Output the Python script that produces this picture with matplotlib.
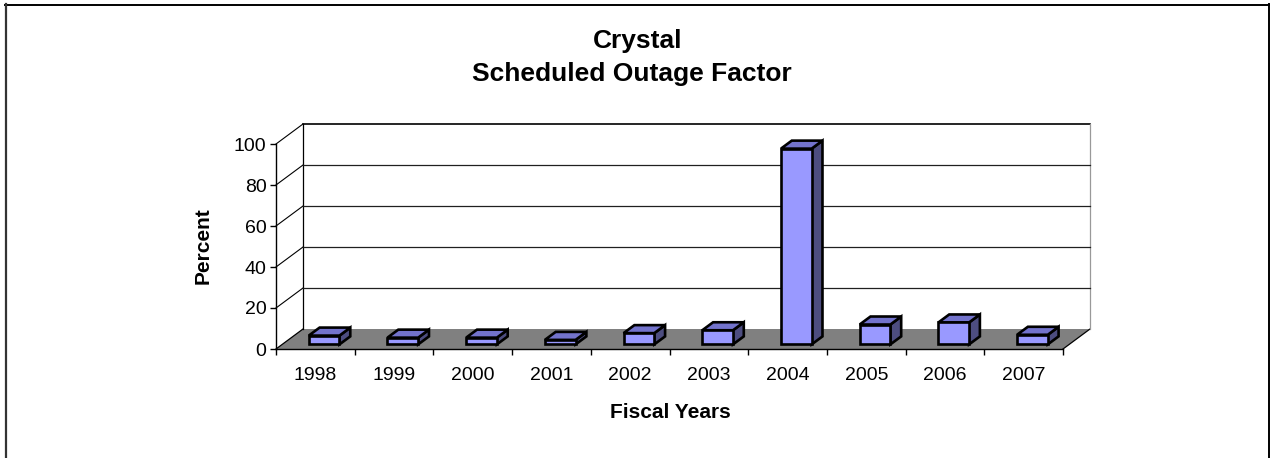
import matplotlib
matplotlib.use("Agg")
import matplotlib.pyplot as plt
from matplotlib.patches import Polygon
from matplotlib.lines import Line2D

plt.rcParams['font.family'] = ['Liberation Sans', 'DejaVu Sans']

# ---------------- data ----------------
years = ['1998', '1999', '2000', '2001', '2002', '2003', '2004', '2005', '2006', '2007']
values = [4.3, 3.3, 3.3, 2.2, 5.5, 6.9, 95.5, 9.7, 10.7, 4.7]
yticks = [0, 20, 40, 60, 80, 100]
title_lines = ['Crystal', 'Scheduled Outage Factor']
xlabel = 'Fiscal Years'
ylabel = 'Percent'

# ---------------- style / geometry ----------------
W, H = 1271, 458
fig = plt.figure(figsize=(W / 100, H / 100), dpi=100)
fig.patch.set_facecolor('white')

ax_left, ax_right, ax_top, ax_bot = 276, 1063, 144, 349
ax = fig.add_axes([ax_left / W, (H - ax_bot) / H, (ax_right - ax_left) / W, (ax_bot - ax_top) / H])
n = len(years)
ax.set_xlim(0, n)
ax.set_ylim(0, 100)
ax.set_facecolor('none')

px_per_cat = (ax_right - ax_left) / n
px_per_unit = (ax_bot - ax_top) / 100.0
DX = 27 / px_per_cat        # depth offset in category units
DY = 20 / px_per_unit       # depth offset in value units

FLOOR = '#808080'
FRONT = '#9999FF'
TOP = '#7373CC'
SIDE = '#4D4D80'
GRID = '#202020'

# floor
ax.add_patch(Polygon([(0, 0), (n, 0), (n + DX, DY), (DX, DY)], closed=True,
                     facecolor=FLOOR, edgecolor='none', clip_on=False, zorder=1))
ax.add_line(Line2D([0, DX], [0, DY], color='black', lw=0.9, clip_on=False, zorder=2))
ax.add_line(Line2D([n, n + DX], [0, DY], color='black', lw=0.9, clip_on=False, zorder=2))

# back wall
ax.add_line(Line2D([DX, n + DX], [100 + DY, 100 + DY], color='black', lw=1.2, clip_on=False, zorder=2))
ax.add_line(Line2D([DX, DX], [DY, 100 + DY], color='black', lw=0.9, clip_on=False, zorder=2))
ax.add_line(Line2D([n + DX, n + DX], [DY, 100 + DY], color='#999999', lw=0.9, clip_on=False, zorder=2))

# gridlines (back wall + side wall)
for v in yticks[1:]:
    if v < 100:
        ax.add_line(Line2D([DX, n + DX], [v + DY, v + DY], color=GRID, lw=0.9, clip_on=False, zorder=2))
    ax.add_line(Line2D([0, DX], [v, v + DY], color='black', lw=0.8, clip_on=False, zorder=2))

# bars
bw = 0.39
gap = (1 - 0.40) / 2
fx0, fy0, bd = 0.34, 0.23, 0.40
for i, v in enumerate(values):
    x0 = i + gap + fx0 * DX
    y0 = fy0 * DY
    bdx, bdy = bd * DX, bd * DY
    front = [(x0, y0), (x0 + bw, y0), (x0 + bw, y0 + v), (x0, y0 + v)]
    top = [(x0, y0 + v), (x0 + bw, y0 + v), (x0 + bw + bdx, y0 + v + bdy), (x0 + bdx, y0 + v + bdy)]
    side = [(x0 + bw, y0), (x0 + bw + bdx, y0 + bdy), (x0 + bw + bdx, y0 + v + bdy), (x0 + bw, y0 + v)]
    for poly, col in ((side, SIDE), (top, TOP), (front, FRONT)):
        ax.add_patch(Polygon(poly, closed=True, facecolor=col, edgecolor='black',
                             lw=1.9, joinstyle='miter', clip_on=False, zorder=3))

# axes / ticks
for s in ['top', 'right']:
    ax.spines[s].set_visible(False)
for s in ['left', 'bottom']:
    ax.spines[s].set_color('black')
    ax.spines[s].set_linewidth(1.0)
    ax.spines[s].set_zorder(4)

ax.set_yticks(yticks)
ax.set_yticklabels([str(t) for t in yticks])
ax.tick_params(axis='y', direction='out', length=4.3, width=1.0, pad=2.5, labelsize=14)

ax.set_xticks(range(n + 1))
ax.set_xticklabels([''] * (n + 1))
ax.set_xticks([i + 0.5 for i in range(n)], minor=True)
ax.set_xticklabels(years, minor=True)
ax.tick_params(axis='x', which='major', direction='out', length=4.0, width=1.0)
ax.tick_params(axis='x', which='minor', length=0, pad=13, labelsize=14)

# labels & title
fig.text(203 / W, 1 - 246 / H, ylabel, rotation=90, ha='center', va='center',
         fontsize=15, fontweight='bold')
fig.text(670 / W, 1 - 413 / H, xlabel, ha='center', va='center', fontsize=15, fontweight='bold')
fig.text(638 / W, 1 - 41 / H, title_lines[0], ha='center', va='center', fontsize=19, fontweight='bold')
fig.text(632 / W, 1 - 74 / H, title_lines[1], ha='center', va='center', fontsize=19, fontweight='bold')

# chart border
fig.add_artist(Line2D([5 / W, 1269 / W], [1 - 4.5 / H, 1 - 4.5 / H], color='black', lw=1.4,
                      transform=fig.transFigure))
fig.add_artist(Line2D([5.5 / W, 5.5 / W], [0, 1 - 4 / H], color='#333333', lw=1.6,
                      transform=fig.transFigure))
fig.add_artist(Line2D([1268.5 / W, 1268.5 / W], [0, 1 - 4 / H], color='black', lw=1.4,
                      transform=fig.transFigure))

fig.savefig('out.png', dpi=100)
